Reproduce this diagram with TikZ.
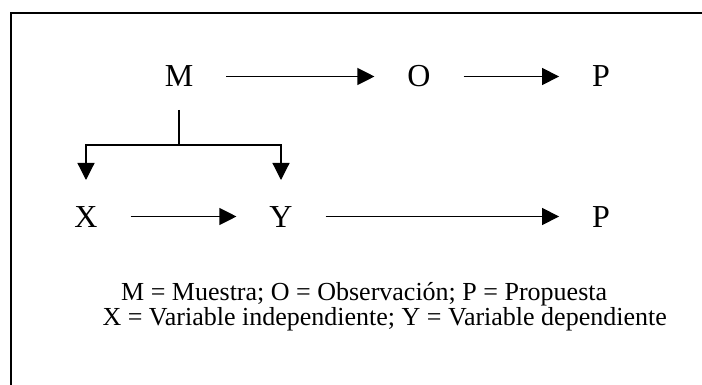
\documentclass[tikz,border=0pt]{standalone}
\usepackage{fontspec}
\setmainfont{Liberation Serif}
\usetikzlibrary{arrows.meta}
\tikzset{
  letter/.style={font=\fontsize{32}{36}\selectfont, text height=21pt, text depth=0pt,
                 inner xsep=33pt, inner ysep=0pt, outer sep=0pt, anchor=base},
  legend/.style={font=\fontsize{26}{30}\selectfont, inner sep=0pt},
  conn/.style={line width=1.2pt, line join=miter, -{Triangle[length=17pt,width=17pt]}},
  plain/.style={line width=1.2pt, line join=miter},
  frame/.style={line width=1.3pt, line join=miter}
}
\begin{document}
\begin{tikzpicture}[x=1pt,y=-1pt]
\useasboundingbox (0,0) rectangle (702,385);
\draw[frame] (702,13) -- (11,13) -- (11,385);
% top row
\node[letter] (M) at (179,87) {M};
\node[letter] (O) at (419,87) {O};
\node[letter] (P1) at (601,87) {P};
% bottom row
\node[letter] (X) at (86,227) {X};
\node[letter] (Y) at (281,227) {Y};
\node[letter] (P2) at (601,227) {P};
% connectors
\draw[conn] (M.east) -- (O.west);
\draw[conn] (O.east) -- (P1.west);
\draw[conn] (X.east) -- (Y.west);
\draw[conn] (Y.east) -- (P2.west);
\coordinate (fork) at (179,145);
\draw[plain] ([yshift=-23pt]M.base) -- (fork);
\draw[conn] (fork) -| ([yshift=26pt]X.north);
\draw[conn] (fork) -| ([yshift=26pt]Y.north);
% legend
\node[legend, anchor=base west] (L1) at (121,300) {M = Muestra; O = Observación; P = Propuesta};
\node[legend, anchor=base east] (L2) at (667,325) {X = Variable independiente; Y = Variable dependiente};
\end{tikzpicture}
\end{document}
